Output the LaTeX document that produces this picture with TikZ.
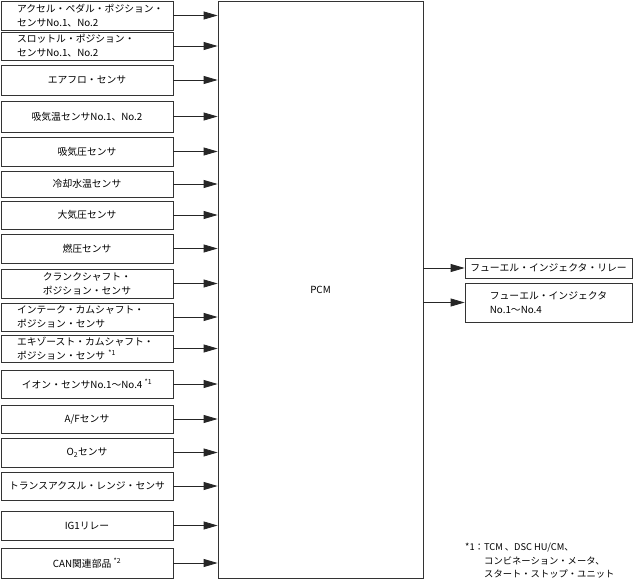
\documentclass[tikz,border=0pt]{standalone}
\usepackage{fontspec}
\setmainfont{Noto Sans CJK JP}
\usetikzlibrary{arrows.meta}

\begin{document}
\begin{tikzpicture}[x=1pt,y=-1pt,
    box/.style={draw=black!80,line width=0.8pt,inner sep=0pt,minimum width=172pt,
      font=\fontsize{9.8}{14}\selectfont,text=black},
    lbox/.style={box,inner xsep=16pt,text width=140pt,align=left},
    outbox/.style={box,minimum width=167pt},
    sig/.style={-{Triangle[length=14pt,width=8pt]},line width=0.8pt,black!85}]
    \useasboundingbox (0,0) rectangle (633,579);

    % PCM
    \node[box,minimum width=205pt,minimum height=577pt] (pcm) at (320.5,289.5) {PCM};

    % Inputs
    \node[lbox,minimum height=29pt] (accel) at (87,15.5) {アクセル・ペダル・ポジション・\\センサNo.1、No.2};
    \node[lbox,minimum height=28pt] (throttle) at (87,46) {スロットル・ポジション・\\センサNo.1、No.2};
    \node[box,minimum height=30pt] (airflow) at (87,80) {エアフロ・センサ};
    \node[box,minimum height=31pt] (iat) at (87,116.5) {吸気温センサNo.1、No.2};
    \node[box,minimum height=29pt] (map) at (87,151.5) {吸気圧センサ};
    \node[box,minimum height=26pt] (ect) at (87,184) {冷却水温センサ};
    \node[box,minimum height=28pt] (baro) at (87,215) {大気圧センサ};
    \node[box,minimum height=29pt] (fuelp) at (87,248.5) {燃圧センサ};
    \node[box,minimum height=29pt,align=center] (ckp) at (87,283.5) {クランクシャフト・\\ポジション・センサ};
    \node[lbox,minimum height=28pt] (intcmp) at (87,317) {インテーク・カムシャフト・\\ポジション・センサ};
    \node[lbox,minimum height=27pt] (exhcmp) at (87,348.5) {エキゾースト・カムシャフト・\\ポジション・センサ \textsuperscript{*1}};
    \node[box,minimum height=28pt] (ion) at (87,384) {イオン・センサNo.1～No.4 \textsuperscript{*1}};
    \node[box,minimum height=28pt] (afs) at (87,419) {A/Fセンサ};
    \node[box,minimum height=29pt] (otwo) at (87,452.5) {O\textsubscript{2}センサ};
    \node[box,minimum height=28pt] (trs) at (87,486) {トランスアクスル・レンジ・センサ};
    \node[box,minimum height=29pt] (igrelay) at (87,525.5) {IG1リレー};
    \node[box,minimum height=30pt] (can) at (87,563) {CAN関連部品 \textsuperscript{*2}};

    % Input signals
    \draw[sig] (accel) -- (accel -| pcm.west);
    \draw[sig] (throttle) -- (throttle -| pcm.west);
    \draw[sig] (airflow) -- (airflow -| pcm.west);
    \draw[sig] (iat) -- (iat -| pcm.west);
    \draw[sig] (map) -- (map -| pcm.west);
    \draw[sig] (ect) -- (ect -| pcm.west);
    \draw[sig] (baro) -- (baro -| pcm.west);
    \draw[sig] (fuelp) -- (fuelp -| pcm.west);
    \draw[sig] (ckp) -- (ckp -| pcm.west);
    \draw[sig] (intcmp) -- (intcmp -| pcm.west);
    \draw[sig] (exhcmp) -- (exhcmp -| pcm.west);
    \draw[sig] (ion) -- (ion -| pcm.west);
    \draw[sig] (afs) -- (afs -| pcm.west);
    \draw[sig] (otwo) -- (otwo -| pcm.west);
    \draw[sig] (trs) -- (trs -| pcm.west);
    \draw[sig] (igrelay) -- (igrelay -| pcm.west);
    \draw[sig] (can) -- (can -| pcm.west);

    % Outputs
    \node[outbox,minimum height=20pt] (injrelay) at (548.5,268) {フューエル・インジェクタ・リレー};
    \node[outbox,minimum height=39pt,align=left] (injector) at (548.5,302.5) {フューエル・インジェクタ\\No.1～No.4};
    \draw[sig] (pcm.east |- injrelay) -- (injrelay);
    \draw[sig] (pcm.east |- injector) -- (injector);

    % Footnote
    \node[anchor=north west,inner sep=0pt,align=left,font=\fontsize{9.3}{13.5}\selectfont,text=black] (note) at (465,543)
      {*1：TCM 、DSC HU/CM、\\\hspace*{19pt}コンビネーション・メータ、\\\hspace*{19pt}スタート・ストップ・ユニット};
\end{tikzpicture}
\end{document}
